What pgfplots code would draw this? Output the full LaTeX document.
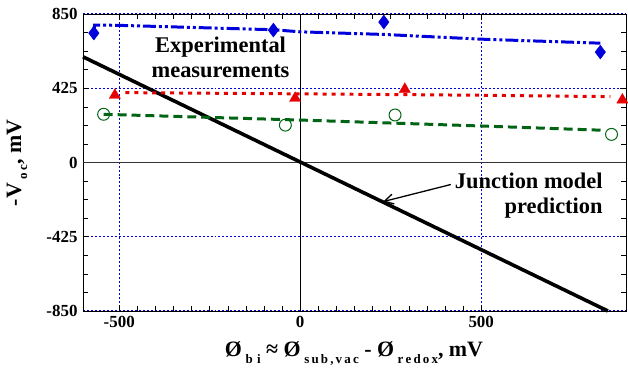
\documentclass[border=0pt]{standalone}
\usepackage{fontspec}
\setmainfont{Liberation Serif}
\usepackage{pgfplots}
\pgfplotsset{compat=1.18}
\usetikzlibrary{arrows.meta}
\definecolor{myblue}{RGB}{0,0,220}
\definecolor{myred}{RGB}{230,0,0}
\definecolor{mygreen}{RGB}{0,100,20}
\begin{document}
\begin{tikzpicture}
\begin{axis}[
  at={(0,0)}, anchor=south west,
  scale only axis, width=543bp, height=297bp,
  xmin=-600, xmax=900, ymin=-850, ymax=850,
  xtick={-500,0,500}, ytick={-850,-425,0,425,850},
  minor x tick num=9, minor y tick num=3,
  tick align=inside, major tick length=6bp, minor tick length=5bp,
  tick style={black, line width=0.6pt},
  axis line style={line width=0.9pt},
  grid=major, major grid style={myblue, line width=1.3pt, dash pattern=on 2pt off 2pt},
  /pgf/number format/assume math mode=true,
  ticklabel style={font=\bfseries\fontsize{17}{17}\selectfont},
  yticklabel style={xshift=-2bp},
  xticklabel style={yshift=-2bp},
  clip=false,
]
% axes lines at 0
\draw[black, line width=1.1pt] (axis cs:0,-850) -- (axis cs:0,850);
\draw[black!80, line width=1pt] (axis cs:-600,0) -- (axis cs:900,0);
% junction model
\addplot[black, line width=3.6pt, no marks] coordinates {(-600,605) (850,-850)};
% blue fit
\addplot[myblue, line width=3pt, no marks, dash pattern=on 13pt off 3pt on 3pt off 3pt on 3pt off 3pt]
 coordinates {(-570,745) (-568,787) (-500,785) (-74,760) (0,748) (231,733) (500,706) (829,683)};
\addplot[only marks, mark=diamond*, mark size=7pt, mark options={fill=myblue, draw=myblue}]
 coordinates {(-570,741) (-74,758) (231,804) (829,632)};
% red fit
\addplot[myred, line width=3pt, no marks, dash pattern=on 4pt off 5pt]
 coordinates {(-483,400) (0,393) (500,385) (857,377)};
\addplot[only marks, mark=triangle*, mark size=6.5pt, mark options={fill=myred, draw=myred}]
 coordinates {(-512,385) (-14,368) (289,419) (890,358)};
% green fit
\addplot[mygreen, line width=3pt, no marks, dash pattern=on 9pt off 5pt]
 coordinates {(-543,276) (0,243) (500,209) (843,184)};
\addplot[only marks, mark=o, mark size=6pt, mark options={draw=mygreen, line width=1pt, fill=white}]
 coordinates {(-543,276) (-41,214) (262,272) (860,161)};
% annotations
\node[font=\bfseries\fontsize{22.5}{25}\selectfont, align=center] at (axis cs:-220,600) {Experimental\\measurements};
\node[font=\bfseries\fontsize{22.5}{25}\selectfont, align=right, anchor=east] at (axis cs:845,-190) {Junction model\\prediction};
\draw[black, line width=1.3pt, ->, >={Straight Barb[length=9pt,width=10pt]}] (axis cs:416,-126) -- (axis cs:229,-224);
\end{axis}
\node[rotate=90, font=\bfseries\fontsize{22}{22}\selectfont] at (-66bp,148bp)
 {-V\,\raisebox{-6bp}{\fontsize{13}{13}\selectfont o\,c}, mV};
\node[font=\bfseries\fontsize{22}{22}\selectfont] at (271bp,-43bp)
 {Ø\,\raisebox{-7bp}{\fontsize{13}{13}\selectfont b\,\,i} ≈ Ø\,\raisebox{-7bp}{\fontsize{13}{13}\selectfont s\,u\,b\,,\,v\,a\,c} - Ø\,\raisebox{-7bp}{\fontsize{13}{13}\selectfont r\,e\,d\,o\,x}, mV};
\pgfresetboundingbox
\path (-83bp,-60bp) rectangle (545bp,311bp);
\end{tikzpicture}
\end{document}
